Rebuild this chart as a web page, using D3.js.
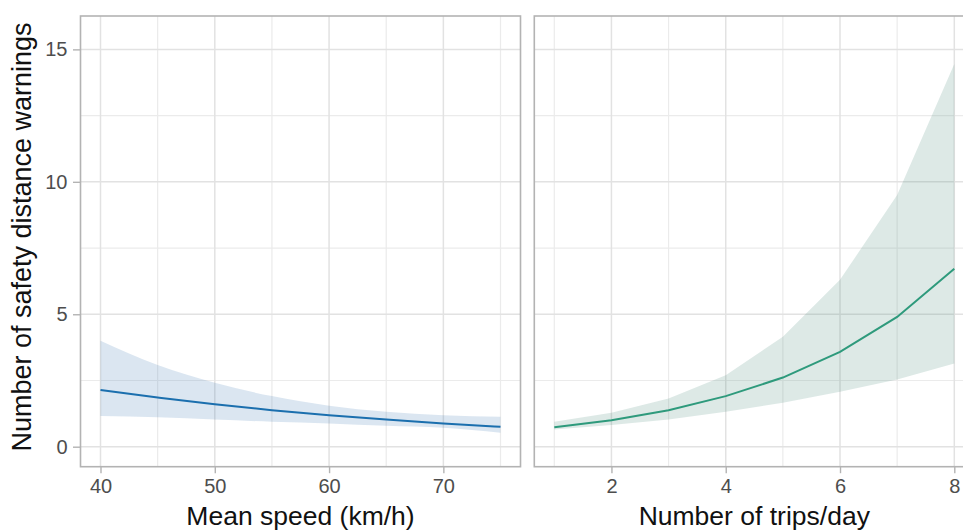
<!DOCTYPE html>
<html>
<head>
<meta charset="utf-8">
<script src="https://cdn.jsdelivr.net/npm/d3@7"></script>
<style>
  body { margin: 0; background: #fff; }
  text { font-family: "Liberation Sans", Arial, sans-serif; }
</style>
</head>
<body>
<script>
// mean speed panel (km/h)
const speed = [40, 45, 50, 55, 60, 65, 70, 75];
const speedFit = [2.14, 1.86, 1.6, 1.38, 1.19, 1.03, 0.88, 0.75];
const speedLow = [1.16, 1.11, 1.03, 0.94, 0.88, 0.79, 0.72, 0.53];
const speedHigh = [4.0, 3.08, 2.41, 1.91, 1.55, 1.32, 1.19, 1.13];

// trips per day panel
const trips = [1, 2, 3, 4, 5, 6, 7, 8];
const tripsFit = [0.73, 1.0, 1.38, 1.91, 2.61, 3.58, 4.9, 6.72];
const tripsLow = [0.65, 0.82, 1.03, 1.32, 1.66, 2.07, 2.54, 3.14];
const tripsHigh = [0.94, 1.28, 1.82, 2.7, 4.15, 6.3, 9.5, 14.45];

const yTicks = [0, 5, 10, 15];
const yMinor = [2.5, 7.5, 12.5];
const speedTicks = [40, 50, 60, 70];
const speedMinor = [45, 55, 65, 75];
const tripTicks = [2, 4, 6, 8];
const tripMinor = [1, 3, 5, 7];

const width = 963, height = 532;
const panelTop = 16, panelBottom = 466.7;

const svg = d3.select("body").append("svg")
  .attr("width", width)
  .attr("height", height);

const y = d3.scaleLinear().domain([-0.755, 16.26]).range([panelBottom, panelTop]);

function panel(left, right, xDomain, xs, fit, low, high, ticks, minor, lineCol, fillCol, curve, title) {
  const x = d3.scaleLinear().domain(xDomain).range([left, right]);
  const g = svg.append("g");

  // grid
  g.selectAll(".hminor").data(yMinor).join("line")
    .attr("x1", left).attr("x2", right)
    .attr("y1", d => y(d)).attr("y2", d => y(d))
    .attr("stroke", "#ebebeb").attr("stroke-width", 1.2);
  g.selectAll(".vminor").data(minor).join("line")
    .attr("x1", d => x(d)).attr("x2", d => x(d))
    .attr("y1", panelTop).attr("y2", panelBottom)
    .attr("stroke", "#ebebeb").attr("stroke-width", 1.2);
  g.selectAll(".hmajor").data(yTicks).join("line")
    .attr("x1", left).attr("x2", right)
    .attr("y1", d => y(d)).attr("y2", d => y(d))
    .attr("stroke", "#e2e2e2").attr("stroke-width", 1.5);
  g.selectAll(".vmajor").data(ticks).join("line")
    .attr("x1", d => x(d)).attr("x2", d => x(d))
    .attr("y1", panelTop).attr("y2", panelBottom)
    .attr("stroke", "#e2e2e2").attr("stroke-width", 1.5);

  const pts = xs.map((v, i) => ({x: v, fit: fit[i], lo: low[i], hi: high[i]}));

  g.append("path")
    .datum(pts)
    .attr("fill", fillCol)
    .attr("fill-opacity", 0.2)
    .attr("d", d3.area().curve(curve)
      .x(d => x(d.x)).y0(d => y(d.lo)).y1(d => y(d.hi)));

  g.append("path")
    .datum(pts)
    .attr("fill", "none")
    .attr("stroke", lineCol)
    .attr("stroke-width", 2)
    .attr("d", d3.line().curve(curve).x(d => x(d.x)).y(d => y(d.fit)));

  // border
  g.append("rect")
    .attr("x", left).attr("y", panelTop)
    .attr("width", right - left).attr("height", panelBottom - panelTop)
    .attr("fill", "none").attr("stroke", "#b3b3b3").attr("stroke-width", 1.6);

  const xAxis = g.append("g")
    .attr("transform", `translate(0,${panelBottom})`)
    .call(d3.axisBottom(x).tickValues(ticks).tickSize(6.5).tickSizeOuter(0).tickPadding(6));
  xAxis.select(".domain").remove();
  xAxis.selectAll("line").attr("stroke", "#b3b3b3").attr("stroke-width", 1.4);
  xAxis.selectAll("text").attr("font-size", 20).attr("fill", "#4d4d4d")
    .style("font-family", "'Liberation Sans', Arial, sans-serif");

  g.append("text")
    .attr("x", (left + right) / 2)
    .attr("y", 525)
    .attr("text-anchor", "middle")
    .attr("font-size", 26.5)
    .attr("fill", "#111")
    .text(title);

  return x;
}

panel(80.5, 520.5, [38.25, 76.75], speed, speedFit, speedLow, speedHigh,
  speedTicks, speedMinor, "#1b6fae", "#4b82b9", d3.curveMonotoneX, "Mean speed (km/h)");
panel(534.3, 974.3, [0.65, 8.35], trips, tripsFit, tripsLow, tripsHigh,
  tripTicks, tripMinor, "#2e9a7c", "#559182", d3.curveLinear, "Number of trips/day");

const yAxis = svg.append("g")
  .attr("transform", "translate(80.5,0)")
  .call(d3.axisLeft(y).tickValues(yTicks).tickSize(7.5).tickSizeOuter(0).tickPadding(5.5));
yAxis.select(".domain").remove();
yAxis.selectAll("line").attr("stroke", "#b3b3b3").attr("stroke-width", 1.4);
yAxis.selectAll("text").attr("font-size", 20).attr("fill", "#4d4d4d")
  .style("font-family", "'Liberation Sans', Arial, sans-serif");

svg.append("text")
  .attr("transform", "translate(31,237) rotate(-90)")
  .attr("text-anchor", "middle")
  .attr("font-size", 27)
  .attr("fill", "#111")
  .text("Number of safety distance warnings");
</script>
</body>
</html>
